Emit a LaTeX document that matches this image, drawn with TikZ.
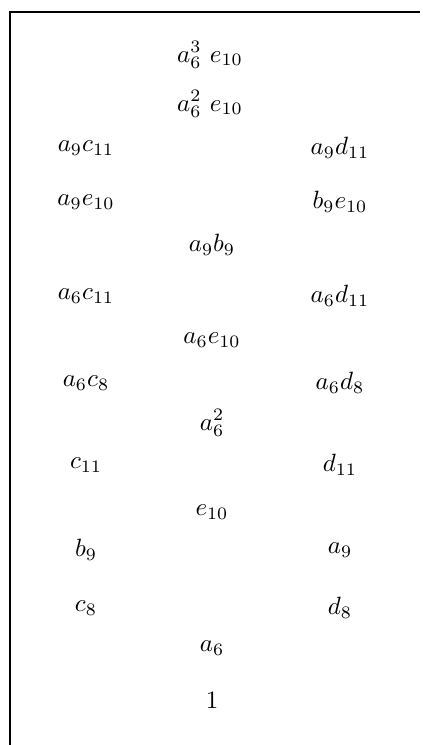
\documentclass[tikz,border=0pt]{standalone}
\usepackage{amsmath}
\usepackage{amssymb}
\usetikzlibrary{positioning}

\tikzset{elt/.style={inner sep=1pt}}

\begin{document}
\begin{tikzpicture}[x=0.4pt,y=0.4pt]
  \useasboundingbox (0,0) rectangle (422,745);
  \draw[line width=0.5pt](10,0)--(10,733)--(420,733);
  % top rows
  \node[elt](t3) at (210,690){$a_6^3\ e_{10}$};
  \node[elt](t2) at (210,641){$a_6^2\ e_{10}$};
  \node[elt](a9c11) at (86,597){$a_9c_{11}$};
  \node[elt](a9d11) at (340,597){$a_9d_{11}$};
  \node[elt](a9e10) at (86,543){$a_9e_{10}$};
  \node[elt](b9e10) at (340,543){$b_9e_{10}$};
  \node[elt](a9b9) at (212,500){$a_9b_9$};
  \node[elt](a6c11) at (86,449){$a_6c_{11}$};
  \node[elt](a6d11) at (340,449){$a_6d_{11}$};
  \node[elt](a6e10) at (212,405){$a_6e_{10}$};
  \node[elt](a6c8) at (86,362){$a_6c_8$};
  \node[elt](a6d8) at (340,362){$a_6d_8$};
  \node[elt](sq) at (212,322){$a_6^2$};
  % lower rows
  \node[elt](c11) at (86,280){$c_{11}$};
  \node[elt](d11) at (340,280){$d_{11}$};
  \node[elt](e10) at (212,233){$e_{10}$};
  \node[elt](b9) at (86,195){$b_9$};
  \node[elt](a9) at (340,195){$a_9$};
  \node[elt](c8) at (86,137){$c_8$};
  \node[elt](d8) at (340,137){$d_8$};
  \node[elt](a6) at (212,97){$a_6$};
  \node[elt](one) at (212,45){$1$};
\end{tikzpicture}
\end{document}
